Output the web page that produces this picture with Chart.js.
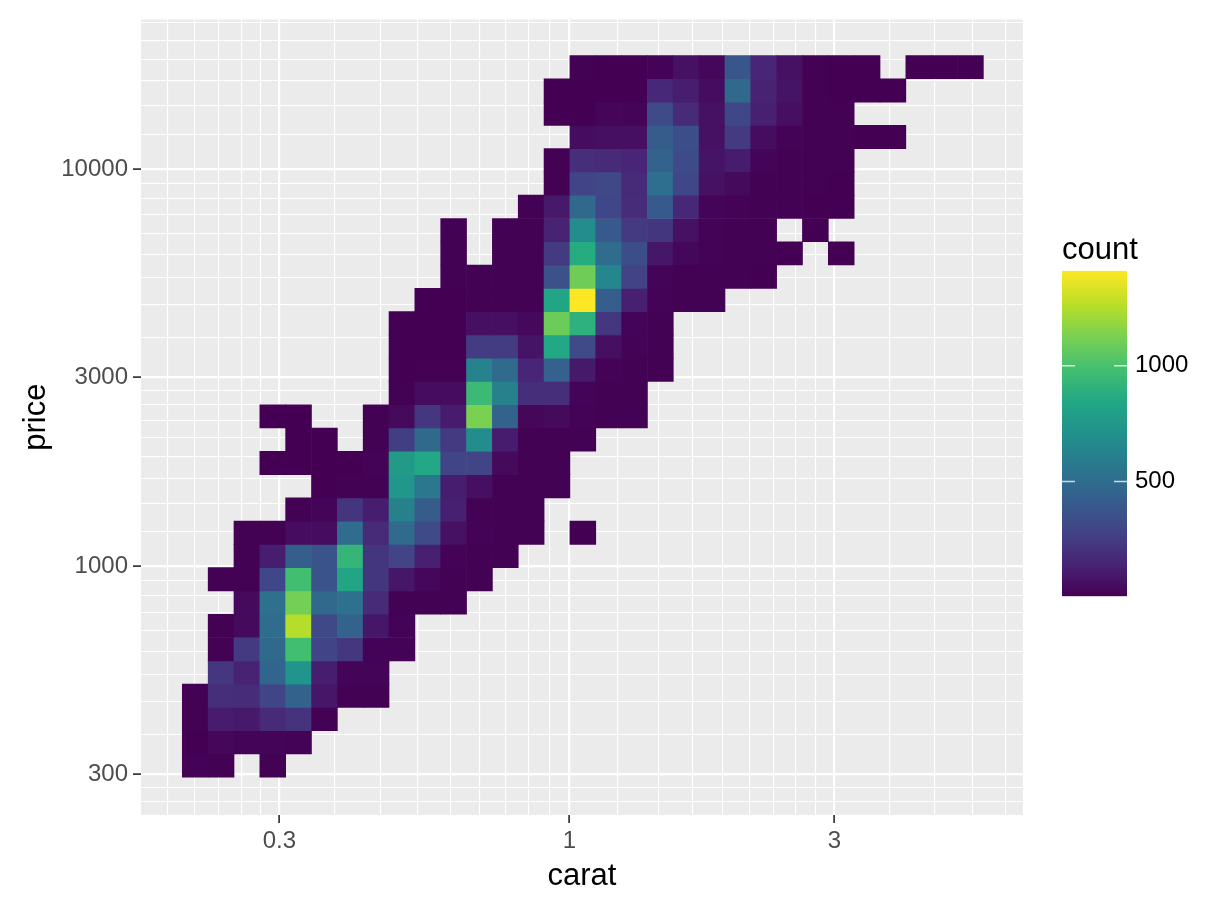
<!DOCTYPE html>
<html>
<head>
<meta charset="utf-8">
<title>carat vs price</title>
<script src="https://cdn.jsdelivr.net/npm/chart.js@4/dist/chart.umd.min.js"></script>
<style>
    body { margin: 0; background: #fff; }
    canvas { display: block; }
</style>
</head>
<body>
<canvas id="binChart" width="1209" height="910"></canvas>
<script>
// bin centres as log10 carat (left to right) and log10 price (top to bottom)
const caratBins = [-0.6744, -0.6278, -0.5813, -0.5347, -0.4882, -0.4416, -0.3950, -0.3485, -0.3019, -0.2554, -0.2088,
    -0.1622, -0.1157, -0.0691, -0.0226, 0.0240, 0.0706, 0.1171, 0.1637, 0.2102, 0.2568, 0.3034, 0.3499, 0.3965,
    0.4430, 0.4896, 0.5362, 0.5827, 0.6293, 0.6758, 0.7224]
const priceBins = [4.2568, 4.1982, 4.1396, 4.0810, 4.0224, 3.9638, 3.9052, 3.8466, 3.7880, 3.7294, 3.6708, 3.6122,
    3.5536, 3.4950, 3.4364, 3.3778, 3.3192, 3.2606, 3.2020, 3.1434, 3.0848, 3.0262, 2.9676, 2.9090, 2.8504, 2.7918,
    2.7332, 2.6746, 2.6160, 2.5574, 2.4988]
const priceHalfBin = 0.0293

// one row per price bin, one column per carat bin, 0 = no cell
const counts = [
    [0,0,0,0,0,0,0,0,0,0,0,0,0,0,0,10,5,5,15,70,30,380,150,70,10,5,5,0,5,5,5],
    [0,0,0,0,0,0,0,0,0,0,0,0,0,0,5,5,5,5,160,120,50,480,140,80,10,5,5,5,0,0,0],
    [0,0,0,0,0,0,0,0,0,0,0,0,0,0,5,5,25,20,320,170,70,300,130,60,10,10,0,0,0,0,0],
    [0,0,0,0,0,0,0,0,0,0,0,0,0,0,0,50,60,60,410,340,70,240,50,15,10,10,5,5,0,0,0],
    [0,0,0,0,0,0,0,0,0,0,0,0,0,0,10,190,170,150,450,330,80,110,20,10,10,10,0,0,0,0,0],
    [0,0,0,0,0,0,0,0,0,0,0,0,0,0,10,290,310,170,510,300,70,40,10,10,10,5,0,0,0,0,0],
    [0,0,0,0,0,0,0,0,0,0,0,0,0,10,100,480,300,180,400,160,20,15,10,10,5,5,0,0,0,0,0],
    [0,0,0,0,0,0,0,0,0,0,10,0,10,10,140,680,400,240,220,70,15,10,10,0,5,0,0,0,0,0,0],
    [0,0,0,0,0,0,0,0,0,0,10,0,10,10,240,870,500,340,90,30,15,10,10,5,0,5,0,0,0,0,0],
    [0,0,0,0,0,0,0,0,0,0,10,10,10,10,350,1100,650,280,20,10,10,10,5,0,0,0,0,0,0,0,0],
    [0,0,0,0,0,0,0,0,0,5,5,10,10,10,830,1410,420,130,15,10,10,0,0,0,0,0,0,0,0,0,0],
    [0,0,0,0,0,0,0,0,5,5,5,60,60,35,1090,900,230,20,10,0,0,0,0,0,0,0,0,0,0,0,0],
    [0,0,0,0,0,0,0,0,5,5,5,250,250,80,850,320,60,15,10,0,0,0,0,0,0,0,0,0,0,0,0],
    [0,0,0,0,0,0,0,0,5,10,10,630,490,150,440,100,15,10,10,0,0,0,0,0,0,0,0,0,0,0,0],
    [0,0,0,0,0,0,0,0,10,50,50,950,620,190,190,20,10,10,0,0,0,0,0,0,0,0,0,0,0,0,0],
    [0,0,0,5,5,0,0,10,40,230,110,1130,450,30,40,15,10,10,0,0,0,0,0,0,0,0,0,0,0,0,0],
    [0,0,0,0,5,5,0,10,260,480,240,680,110,10,10,10,0,0,0,0,0,0,0,0,0,0,0,0,0,0,0],
    [0,0,0,5,5,5,5,15,770,850,290,290,40,10,10,0,0,0,0,0,0,0,0,0,0,0,0,0,0,0,0],
    [0,0,0,0,0,5,10,10,740,560,120,60,10,10,10,0,0,0,0,0,0,0,0,0,0,0,0,0,0,0,0],
    [0,0,0,0,10,20,220,120,620,410,130,10,10,10,0,0,0,0,0,0,0,0,0,0,0,0,0,0,0,0,0],
    [0,0,10,10,50,50,500,170,490,320,70,15,10,10,0,5,0,0,0,0,0,0,0,0,0,0,0,0,0,0,0],
    [0,0,10,120,420,370,930,220,290,130,15,10,10,0,0,0,0,0,0,0,0,0,0,0,0,0,0,0,0,0,0],
    [0,10,10,300,980,370,830,220,90,30,10,10,0,0,0,0,0,0,0,0,0,0,0,0,0,0,0,0,0,0,0],
    [0,0,40,520,1110,480,530,170,10,10,10,0,0,0,0,0,0,0,0,0,0,0,0,0,0,0,0,0,0,0,0],
    [0,10,40,500,1250,310,450,90,15,0,0,0,0,0,0,0,0,0,0,0,0,0,0,0,0,0,0,0,0,0,0],
    [0,10,240,480,980,290,230,15,15,0,0,0,0,0,0,0,0,0,0,0,0,0,0,0,0,0,0,0,0,0,0],
    [0,230,140,460,730,120,20,20,0,0,0,0,0,0,0,0,0,0,0,0,0,0,0,0,0,0,0,0,0,0,0],
    [10,190,180,290,450,90,10,10,0,0,0,0,0,0,0,0,0,0,0,0,0,0,0,0,0,0,0,0,0,0,0],
    [10,110,100,170,210,10,0,0,0,0,0,0,0,0,0,0,0,0,0,0,0,0,0,0,0,0,0,0,0,0,0],
    [5,30,20,20,15,0,0,0,0,0,0,0,0,0,0,0,0,0,0,0,0,0,0,0,0,0,0,0,0,0,0],
    [15,10,0,10,0,0,0,0,0,0,0,0,0,0,0,0,0,0,0,0,0,0,0,0,0,0,0,0,0,0,0]
]

const caratTicks = [0.3, 1, 3]
const caratMinor = [0.189, 0.211, 0.233, 0.256, 0.278, 0.378, 0.456, 0.533, 0.611, 0.689, 0.767, 0.844, 0.922,
    1.222, 1.444, 1.667, 1.889, 2.111, 2.333, 2.556, 2.778, 3.778, 4.556, 5.333, 6.111]
const priceTicks = [300, 1000, 3000, 10000]
const priceMinor = [256, 278, 378, 456, 533, 611, 689, 767, 844, 922, 1222, 1444, 1667, 1889, 2111, 2333, 2556, 2778,
    3778, 4556, 5333, 6111, 6889, 7667, 8444, 9222, 12222, 14444, 16667, 18889, 21111, 23333]
const countTicks = [500, 1000]
const countMin = 5
const countMax = 1410

const viridis = ['#440154', '#482475', '#414487', '#355f8d', '#2a788e', '#21918c', '#22a884', '#44bf70', '#7ad151', '#bddf26', '#fde725']

const FONT = '"Liberation Sans", Arial, sans-serif'

function hexToRgb(hex) {
    return [1, 3, 5].map(i => parseInt(hex.slice(i, i + 2), 16))
}

function countColor(count) {
    const t = Math.min(1, (count - countMin) / (countMax - countMin)) * (viridis.length - 1)
    const i = Math.min(viridis.length - 2, Math.floor(t))
    const a = hexToRgb(viridis[i])
    const b = hexToRgb(viridis[i + 1])
    const c = a.map((v, k) => Math.round(v + (b[k] - v) * (t - i)))
    return `rgb(${c[0]}, ${c[1]}, ${c[2]})`
}

function logTicks(major, minor) {
    return scale => {
        scale.ticks = major.map(value => ({ value, major: true }))
            .concat(minor.map(value => ({ value, major: false })))
            .sort((a, b) => a.value - b.value)
    }
}

const datasets = counts.map((row, r) => ({
    label: 'price ' + r,
    data: row.map((count, c) => ({
        x: 10 ** caratBins[c],
        y: [10 ** (priceBins[r] - priceHalfBin), 10 ** (priceBins[r] + priceHalfBin)],
        count
    })).filter(cell => cell.count > 0),
    backgroundColor: ctx => countColor(ctx.raw.count),
    borderWidth: 0,
    grouped: false,
    barThickness: 25.84
}))

const panelBackground = {
    id: 'panelBackground',
    beforeDraw(chart) {
        const { ctx, chartArea: a } = chart
        ctx.save()
        ctx.fillStyle = '#ebebeb'
        ctx.fillRect(a.left, a.top, a.right - a.left, a.bottom - a.top)
        ctx.restore()
    }
}

// colour bar sits on the count scale
const colorBar = {
    id: 'colorBar',
    afterDraw(chart) {
        const { ctx, scales: { count } } = chart
        const left = 1062, right = 1127
        const top = count.getPixelForValue(countMax), bottom = count.getPixelForValue(countMin)
        const grad = ctx.createLinearGradient(0, bottom, 0, top)
        viridis.forEach((c, i) => grad.addColorStop(i / (viridis.length - 1), c))
        ctx.save()
        ctx.fillStyle = grad
        ctx.fillRect(left, top, right - left, bottom - top)
        ctx.strokeStyle = 'rgba(255, 255, 255, 0.75)'
        ctx.lineWidth = 1.4
        countTicks.forEach(v => {
            const y = count.getPixelForValue(v)
            ctx.beginPath()
            ctx.moveTo(left, y); ctx.lineTo(left + 13, y)
            ctx.moveTo(right - 13, y); ctx.lineTo(right, y)
            ctx.stroke()
        })
        ctx.fillStyle = '#000'
        ctx.font = '31px ' + FONT
        ctx.textBaseline = 'alphabetic'
        ctx.fillText('count', left, 259)
        ctx.restore()
    }
}

function gridOptions() {
    return {
        offset: false,
        color: '#fff',
        lineWidth: ctx => ctx.tick && ctx.tick.major ? 2.2 : 1.1,
        tickColor: ctx => ctx.tick && ctx.tick.major ? '#333' : 'rgba(0, 0, 0, 0)',
        tickWidth: 1.7,
        tickLength: 8
    }
}

new Chart(document.getElementById('binChart'), {
    type: 'bar',
    data: { datasets },
    plugins: [panelBackground, colorBar],
    options: {
        responsive: false,
        animation: false,
        layout: { padding: { top: 18, left: 0, right: 0, bottom: 0 } },
        plugins: { legend: { display: false }, tooltip: { enabled: false } },
        scales: {
            x: {
                type: 'logarithmic',
                offset: false,
                min: 0.169,
                max: 6.563,
                afterBuildTicks: logTicks(caratTicks, caratMinor),
                afterFit: scale => { scale.height = 95 },
                border: { display: false },
                grid: gridOptions(),
                ticks: {
                    autoSkip: false,
                    maxRotation: 0,
                    padding: 4,
                    color: '#4d4d4d',
                    font: { family: FONT, size: 24 },
                    callback: function (value) { return caratTicks.includes(value) ? String(value) : '' }
                },
                title: {
                    display: true,
                    text: 'carat',
                    color: '#000',
                    font: { family: FONT, size: 31 },
                    padding: { top: 0, bottom: 15 }
                }
            },
            y: {
                type: 'logarithmic',
                min: 236.8,
                max: 23820,
                afterBuildTicks: logTicks(priceTicks, priceMinor),
                afterFit: scale => { scale.width = 141 },
                border: { display: false },
                grid: gridOptions(),
                ticks: {
                    autoSkip: false,
                    padding: 5,
                    color: '#4d4d4d',
                    font: { family: FONT, size: 24 },
                    callback: function (value) { return priceTicks.includes(value) ? String(value) : '' }
                },
                title: {
                    display: true,
                    text: 'price',
                    color: '#000',
                    font: { family: FONT, size: 31 },
                    padding: { top: 18, bottom: 0 }
                }
            },
            count: {
                type: 'linear',
                position: 'right',
                min: -940,
                max: 2496,
                afterBuildTicks: scale => { scale.ticks = countTicks.map(value => ({ value })) },
                afterFit: scale => { scale.width = 186 },
                border: { display: false },
                // a long invisible tick mark pushes the labels clear of the colour bar
                grid: { display: false, drawTicks: true, tickLength: 112 },
                ticks: {
                    padding: 0,
                    color: '#000',
                    font: { family: FONT, size: 24 },
                    callback: value => String(value)
                }
            }
        }
    }
})
</script>
</body>
</html>
